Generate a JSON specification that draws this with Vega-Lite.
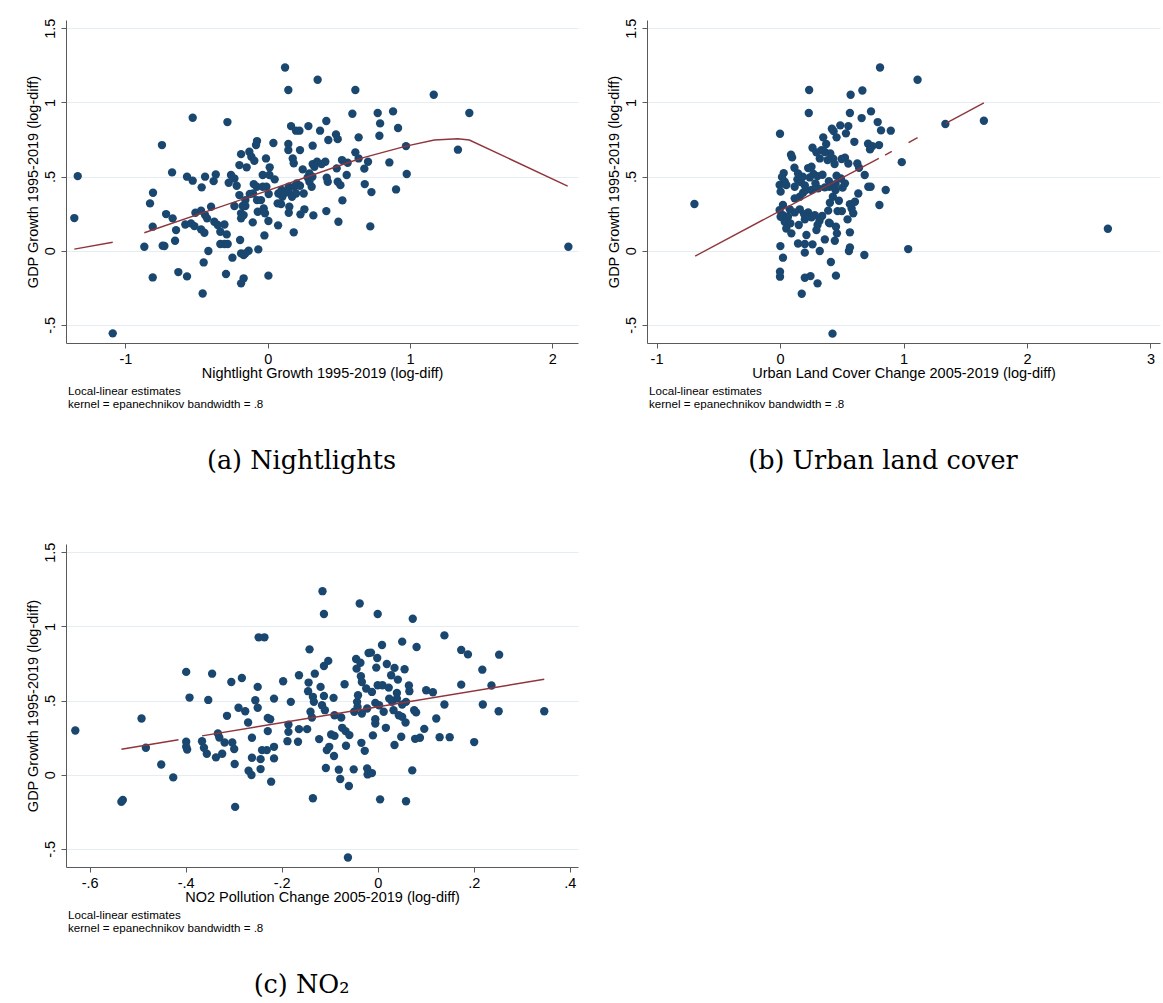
{
"$schema":"https://vega.github.io/schema/vega-lite/v6.json",
"padding":{"left":25,"top":18,"right":3,"bottom":5},
"spacing":67,
"config":{
 "view":{"stroke":null},
 "axis":{"labelFont":"Liberation Sans","labelFontSize":14.5,"labelColor":"#000","titleFont":"Liberation Sans","titleFontSize":14.5,"titleFontWeight":"normal","titleColor":"#000","domainColor":"#5a5a5a","tickColor":"#5a5a5a","tickSize":5,"gridColor":"#e4edf1","labelPadding":4,"labelFlush":false,"labelOverlap":false},
 "axisX":{"grid":false,"titlePadding":1},
 "axisY":{"grid":true,"labelAngle":-90,"labelAlign":"center","labelBaseline":"bottom","titlePadding":2}
},
"datasets":{
"a":[{"x":0.122,"y":1.235},{"x":0.351,"y":1.152},{"x":0.145,"y":1.083},{"x":0.616,"y":1.083},{"x":0.595,"y":0.923},{"x":-0.527,"y":0.896},{"x":-0.283,"y":0.867},{"x":0.164,"y":0.84},{"x":0.199,"y":0.809},{"x":0.223,"y":0.809},{"x":0.286,"y":0.84},{"x":0.412,"y":0.874},{"x":0.368,"y":0.809},{"x":0.48,"y":0.784},{"x":0.492,"y":0.752},{"x":0.639,"y":0.764},{"x":0.426,"y":0.746},{"x":0.316,"y":0.708},{"x":-0.743,"y":0.712},{"x":-0.075,"y":0.739},{"x":-0.082,"y":0.712},{"x":0.04,"y":0.726},{"x":0.145,"y":0.719},{"x":0.145,"y":0.678},{"x":0.227,"y":0.678},{"x":-0.187,"y":0.651},{"x":-0.129,"y":0.667},{"x":-0.115,"y":0.633},{"x":-0.094,"y":0.606},{"x":-0.012,"y":0.622},{"x":0.014,"y":0.562},{"x":-0.148,"y":0.562},{"x":-0.199,"y":0.577},{"x":0.176,"y":0.622},{"x":0.183,"y":0.589},{"x":0.246,"y":0.548},{"x":0.316,"y":0.584},{"x":0.347,"y":0.6},{"x":0.405,"y":0.6},{"x":0.379,"y":0.584},{"x":0.522,"y":0.611},{"x":0.616,"y":0.663},{"x":0.639,"y":0.622},{"x":0.485,"y":0.555},{"x":0.555,"y":0.51},{"x":-0.672,"y":0.528},{"x":-0.567,"y":0.499},{"x":-0.527,"y":0.472},{"x":-0.44,"y":0.499},{"x":-0.464,"y":0.427},{"x":-0.365,"y":0.514},{"x":-0.38,"y":0.469},{"x":-0.258,"y":0.51},{"x":-0.274,"y":0.458},{"x":-0.234,"y":0.487},{"x":-0.218,"y":0.438},{"x":-0.035,"y":0.51},{"x":0.012,"y":0.51},{"x":-0.009,"y":0.431},{"x":-0.098,"y":0.449},{"x":-0.077,"y":0.431},{"x":-0.035,"y":0.431},{"x":0.049,"y":0.481},{"x":0.007,"y":0.382},{"x":-0.103,"y":0.386},{"x":-0.199,"y":0.375},{"x":-0.126,"y":0.382},{"x":-0.075,"y":0.341},{"x":-0.047,"y":0.341},{"x":-0.157,"y":0.341},{"x":-0.176,"y":0.301},{"x":-0.234,"y":0.301},{"x":-0.157,"y":0.301},{"x":-0.07,"y":0.263},{"x":-0.019,"y":0.252},{"x":-0.028,"y":0.285},{"x":-0.187,"y":0.252},{"x":-0.187,"y":0.218},{"x":-0.169,"y":0.24},{"x":-0.105,"y":0.191},{"x":0.005,"y":0.2},{"x":-0.194,"y":0.072},{"x":-0.023,"y":0.103},{"x":-0.066,"y":0.009},{"x":-0.134,"y":0.0},{"x":-0.169,"y":-0.029},{"x":-0.187,"y":-0.018},{"x":-0.248,"y":-0.047},{"x":-0.293,"y":-0.157},{"x":-0.169,"y":-0.186},{"x":-0.187,"y":-0.22},{"x":0.005,"y":-0.168},{"x":0.073,"y":0.171},{"x":0.183,"y":0.124},{"x":0.075,"y":0.386},{"x":0.07,"y":0.319},{"x":0.103,"y":0.364},{"x":0.098,"y":0.409},{"x":0.122,"y":0.391},{"x":0.148,"y":0.431},{"x":0.148,"y":0.393},{"x":0.171,"y":0.364},{"x":0.187,"y":0.431},{"x":0.199,"y":0.386},{"x":0.204,"y":0.454},{"x":0.227,"y":0.438},{"x":0.253,"y":0.386},{"x":0.309,"y":0.431},{"x":0.314,"y":0.499},{"x":0.281,"y":0.494},{"x":0.293,"y":0.521},{"x":0.293,"y":0.465},{"x":0.328,"y":0.566},{"x":0.415,"y":0.492},{"x":0.422,"y":0.465},{"x":0.492,"y":0.465},{"x":0.511,"y":0.442},{"x":0.525,"y":0.339},{"x":0.412,"y":0.267},{"x":0.497,"y":0.195},{"x":0.321,"y":0.238},{"x":0.258,"y":0.279},{"x":0.23,"y":0.245},{"x":0.152,"y":0.296},{"x":0.148,"y":0.256},{"x":0.094,"y":0.314},{"x":-1.359,"y":0.22},{"x":-1.335,"y":0.503},{"x":-1.089,"y":-0.557},{"x":-0.867,"y":0.027},{"x":-0.808,"y":-0.18},{"x":-0.808,"y":0.162},{"x":-0.827,"y":0.319},{"x":-0.806,"y":0.391},{"x":-0.738,"y":0.034},{"x":-0.726,"y":0.032},{"x":-0.714,"y":0.247},{"x":-0.668,"y":0.218},{"x":-0.644,"y":0.139},{"x":-0.651,"y":0.067},{"x":-0.628,"y":-0.144},{"x":-0.567,"y":-0.173},{"x":-0.457,"y":-0.288},{"x":-0.579,"y":0.177},{"x":-0.539,"y":0.184},{"x":-0.515,"y":0.166},{"x":-0.468,"y":0.144},{"x":-0.445,"y":0.121},{"x":-0.417,"y":-0.002},{"x":-0.45,"y":-0.079},{"x":-0.508,"y":0.256},{"x":-0.468,"y":0.27},{"x":-0.44,"y":0.24},{"x":-0.398,"y":0.296},{"x":-0.426,"y":0.218},{"x":-0.375,"y":0.195},{"x":-0.351,"y":0.173},{"x":-0.333,"y":0.128},{"x":-0.304,"y":0.177},{"x":-0.288,"y":0.11},{"x":-0.333,"y":0.045},{"x":-0.304,"y":0.045},{"x":-0.281,"y":0.045},{"x":-0.157,"y":-0.018},{"x":1.167,"y":1.051},{"x":1.417,"y":0.928},{"x":0.773,"y":0.928},{"x":0.881,"y":0.939},{"x":0.79,"y":0.858},{"x":0.916,"y":0.827},{"x":0.785,"y":0.775},{"x":0.972,"y":0.705},{"x":1.337,"y":0.681},{"x":0.562,"y":0.593},{"x":0.855,"y":0.595},{"x":0.705,"y":0.6},{"x":0.679,"y":0.553},{"x":0.977,"y":0.517},{"x":0.682,"y":0.449},{"x":0.729,"y":0.395},{"x":0.902,"y":0.413},{"x":0.721,"y":0.164},{"x":2.113,"y":0.027}],
"la":[{"x":-1.359,"y":0.011,"seg":1},{"x":-1.089,"y":0.057,"seg":1},{"x":-0.867,"y":0.121,"seg":2},{"x":0.0,"y":0.405,"seg":2},{"x":0.562,"y":0.593,"seg":2},{"x":0.679,"y":0.629,"seg":2},{"x":0.972,"y":0.705,"seg":2},{"x":1.171,"y":0.746,"seg":2},{"x":1.335,"y":0.755,"seg":2},{"x":1.417,"y":0.746,"seg":2},{"x":2.108,"y":0.436,"seg":2}],
"b":[{"x":0.81,"y":1.235},{"x":1.114,"y":1.152},{"x":0.236,"y":1.083},{"x":0.572,"y":1.051},{"x":0.667,"y":1.08},{"x":0.233,"y":0.928},{"x":0.566,"y":0.928},{"x":0.737,"y":0.939},{"x":0.661,"y":0.894},{"x":0.791,"y":0.867},{"x":0.818,"y":0.811},{"x":0.897,"y":0.809},{"x":0.0,"y":0.788},{"x":0.42,"y":0.822},{"x":0.488,"y":0.845},{"x":0.553,"y":0.84},{"x":0.534,"y":0.791},{"x":0.458,"y":0.764},{"x":0.434,"y":0.806},{"x":0.35,"y":0.764},{"x":0.602,"y":0.734},{"x":0.713,"y":0.721},{"x":0.748,"y":0.705},{"x":0.802,"y":0.712},{"x":0.729,"y":0.683},{"x":0.089,"y":0.647},{"x":0.098,"y":0.629},{"x":0.263,"y":0.694},{"x":0.295,"y":0.663},{"x":0.336,"y":0.678},{"x":0.374,"y":0.719},{"x":0.363,"y":0.665},{"x":0.407,"y":0.656},{"x":0.431,"y":0.62},{"x":0.322,"y":0.622},{"x":0.385,"y":0.611},{"x":0.442,"y":0.584},{"x":0.499,"y":0.618},{"x":0.526,"y":0.627},{"x":0.553,"y":0.588},{"x":0.626,"y":0.588},{"x":0.64,"y":0.559},{"x":0.986,"y":0.597},{"x":0.686,"y":0.51},{"x":0.715,"y":0.431},{"x":0.734,"y":0.431},{"x":0.856,"y":0.409},{"x":0.805,"y":0.308},{"x":0.03,"y":0.523},{"x":0.016,"y":0.496},{"x":0.038,"y":0.465},{"x":-0.003,"y":0.443},{"x":0.005,"y":0.398},{"x":0.051,"y":0.443},{"x":0.117,"y":0.559},{"x":0.146,"y":0.521},{"x":0.141,"y":0.481},{"x":0.119,"y":0.431},{"x":0.168,"y":0.463},{"x":0.184,"y":0.499},{"x":0.228,"y":0.557},{"x":0.255,"y":0.566},{"x":0.271,"y":0.517},{"x":0.304,"y":0.503},{"x":0.344,"y":0.512},{"x":0.241,"y":0.494},{"x":0.287,"y":0.454},{"x":0.201,"y":0.44},{"x":0.209,"y":0.409},{"x":0.16,"y":0.364},{"x":0.187,"y":0.391},{"x":0.119,"y":0.353},{"x":0.255,"y":0.409},{"x":0.309,"y":0.42},{"x":0.363,"y":0.427},{"x":0.401,"y":0.431},{"x":0.45,"y":0.449},{"x":0.396,"y":0.469},{"x":0.458,"y":0.505},{"x":0.493,"y":0.487},{"x":0.526,"y":0.454},{"x":0.507,"y":0.425},{"x":0.45,"y":0.409},{"x":0.428,"y":0.364},{"x":0.404,"y":0.323},{"x":0.477,"y":0.337},{"x":0.466,"y":0.267},{"x":0.501,"y":0.267},{"x":0.39,"y":0.27},{"x":0.404,"y":0.184},{"x":0.453,"y":0.162},{"x":0.461,"y":0.117},{"x":0.444,"y":0.067},{"x":0.363,"y":0.076},{"x":0.341,"y":0.234},{"x":0.32,"y":0.202},{"x":0.304,"y":0.173},{"x":0.295,"y":0.139},{"x":0.396,"y":0.189},{"x":0.282,"y":0.24},{"x":0.228,"y":0.258},{"x":0.255,"y":0.225},{"x":0.195,"y":0.247},{"x":0.16,"y":0.279},{"x":0.119,"y":0.258},{"x":0.079,"y":0.279},{"x":0.024,"y":0.308},{"x":-0.003,"y":0.274},{"x":0.024,"y":0.24},{"x":0.005,"y":0.229},{"x":0.065,"y":0.229},{"x":0.038,"y":0.195},{"x":0.084,"y":0.184},{"x":0.051,"y":0.15},{"x":0.092,"y":0.117},{"x":0.152,"y":0.173},{"x":0.201,"y":0.211},{"x":0.214,"y":0.106},{"x":0.146,"y":0.049},{"x":0.201,"y":0.045},{"x":0.263,"y":0.043},{"x":0.201,"y":-0.013},{"x":0.322,"y":-0.002},{"x":0.58,"y":0.285},{"x":0.593,"y":0.252},{"x":0.547,"y":0.211},{"x":0.566,"y":0.124},{"x":0.566,"y":0.022},{"x":0.558,"y":-0.002},{"x":0.683,"y":-0.029},{"x":0.634,"y":0.386},{"x":0.607,"y":0.33},{"x":0.566,"y":0.314},{"x":0.003,"y":0.031},{"x":0.024,"y":-0.047},{"x":0.0,"y":-0.142},{"x":0.0,"y":-0.175},{"x":0.201,"y":-0.182},{"x":0.247,"y":-0.171},{"x":0.304,"y":-0.22},{"x":0.176,"y":-0.29},{"x":0.412,"y":-0.076},{"x":0.453,"y":-0.168},{"x":0.425,"y":-0.559},{"x":1.038,"y":0.011},{"x":-0.693,"y":0.315},{"x":1.339,"y":0.854},{"x":1.651,"y":0.876},{"x":2.655,"y":0.148}],
"lb":[{"x":-0.687,"y":-0.036,"seg":1},{"x":0.8,"y":0.623,"seg":1},{"x":0.851,"y":0.645,"seg":2},{"x":0.905,"y":0.669,"seg":2},{"x":1.041,"y":0.729,"seg":3},{"x":1.114,"y":0.762,"seg":3},{"x":1.342,"y":0.858,"seg":4},{"x":1.651,"y":0.997,"seg":4}],
"c":[{"x":-0.63,"y":0.298},{"x":-0.534,"y":-0.182},{"x":-0.531,"y":-0.17},{"x":-0.492,"y":0.379},{"x":-0.483,"y":0.182},{"x":-0.451,"y":0.069},{"x":-0.426,"y":-0.018},{"x":-0.399,"y":0.693},{"x":-0.392,"y":0.52},{"x":-0.399,"y":0.222},{"x":-0.399,"y":0.188},{"x":-0.397,"y":0.17},{"x":-0.345,"y":0.681},{"x":-0.353,"y":0.504},{"x":-0.366,"y":0.226},{"x":-0.362,"y":0.182},{"x":-0.356,"y":0.141},{"x":-0.337,"y":0.117},{"x":-0.324,"y":0.141},{"x":-0.333,"y":0.278},{"x":-0.33,"y":0.251},{"x":-0.314,"y":0.397},{"x":-0.319,"y":0.217},{"x":-0.305,"y":0.625},{"x":-0.303,"y":0.217},{"x":-0.299,"y":0.173},{"x":-0.298,"y":0.072},{"x":-0.297,"y":-0.217},{"x":-0.283,"y":0.652},{"x":-0.29,"y":0.451},{"x":-0.276,"y":0.428},{"x":-0.27,"y":0.352},{"x":-0.269,"y":0.027},{"x":-0.263,"y":-0.002},{"x":-0.262,"y":0.249},{"x":-0.262,"y":0.114},{"x":-0.25,"y":0.592},{"x":-0.255,"y":0.502},{"x":-0.25,"y":0.451},{"x":-0.248,"y":0.926},{"x":-0.236,"y":0.926},{"x":-0.244,"y":0.105},{"x":-0.244,"y":0.038},{"x":-0.241,"y":0.166},{"x":-0.231,"y":0.166},{"x":-0.229,"y":0.383},{"x":-0.224,"y":0.374},{"x":-0.229,"y":0.294},{"x":-0.216,"y":0.513},{"x":-0.216,"y":0.188},{"x":-0.216,"y":0.11},{"x":-0.222,"y":-0.047},{"x":-0.197,"y":0.63},{"x":-0.181,"y":0.491},{"x":-0.186,"y":0.338},{"x":-0.186,"y":0.289},{"x":-0.188,"y":0.226},{"x":-0.164,"y":0.67},{"x":-0.164,"y":0.307},{"x":-0.166,"y":0.222},{"x":-0.115,"y":1.237},{"x":-0.112,"y":1.083},{"x":-0.0375,"y":1.154},{"x":0.0,"y":1.083},{"x":0.073,"y":1.051},{"x":0.139,"y":0.939},{"x":0.051,"y":0.897},{"x":0.009,"y":0.874},{"x":0.081,"y":0.861},{"x":-0.142,"y":0.845},{"x":0.174,"y":0.841},{"x":0.188,"y":0.811},{"x":0.253,"y":0.809},{"x":-0.019,"y":0.82},{"x":-0.014,"y":0.823},{"x":-0.001,"y":0.787},{"x":-0.045,"y":0.78},{"x":-0.036,"y":0.755},{"x":-0.103,"y":0.767},{"x":-0.112,"y":0.733},{"x":-0.044,"y":0.715},{"x":-0.003,"y":0.722},{"x":0.019,"y":0.746},{"x":0.035,"y":0.72},{"x":0.056,"y":0.711},{"x":0.028,"y":0.67},{"x":0.042,"y":0.641},{"x":0.218,"y":0.708},{"x":-0.131,"y":0.681},{"x":-0.035,"y":0.664},{"x":-0.033,"y":0.625},{"x":-0.144,"y":0.621},{"x":-0.119,"y":0.592},{"x":-0.069,"y":0.61},{"x":-0.024,"y":0.581},{"x":0.0,"y":0.603},{"x":0.01,"y":0.603},{"x":0.023,"y":0.587},{"x":0.065,"y":0.601},{"x":0.066,"y":0.563},{"x":-0.012,"y":0.558},{"x":0.04,"y":0.551},{"x":0.101,"y":0.569},{"x":0.115,"y":0.556},{"x":0.174,"y":0.607},{"x":0.237,"y":0.601},{"x":-0.145,"y":0.563},{"x":-0.135,"y":0.525},{"x":-0.133,"y":0.491},{"x":-0.112,"y":0.531},{"x":-0.092,"y":0.518},{"x":-0.041,"y":0.536},{"x":-0.043,"y":0.491},{"x":0.024,"y":0.513},{"x":0.04,"y":0.513},{"x":0.03,"y":0.491},{"x":0.059,"y":0.491},{"x":0.051,"y":0.473},{"x":-0.005,"y":0.484},{"x":0.003,"y":0.468},{"x":-0.116,"y":0.468},{"x":-0.11,"y":0.435},{"x":-0.14,"y":0.424},{"x":-0.137,"y":0.386},{"x":-0.049,"y":0.424},{"x":-0.033,"y":0.412},{"x":-0.022,"y":0.446},{"x":-0.042,"y":0.457},{"x":0.0125,"y":0.424},{"x":0.033,"y":0.435},{"x":0.044,"y":0.401},{"x":0.051,"y":0.39},{"x":0.076,"y":0.435},{"x":0.08,"y":0.42},{"x":0.122,"y":0.379},{"x":0.139,"y":0.473},{"x":0.219,"y":0.473},{"x":0.252,"y":0.428},{"x":0.347,"y":0.428},{"x":-0.09,"y":0.401},{"x":-0.076,"y":0.386},{"x":-0.005,"y":0.374},{"x":-0.005,"y":0.345},{"x":0.017,"y":0.316},{"x":0.058,"y":0.352},{"x":-0.147,"y":0.307},{"x":-0.122,"y":0.24},{"x":-0.097,"y":0.271},{"x":-0.09,"y":0.262},{"x":-0.074,"y":0.316},{"x":-0.067,"y":0.294},{"x":-0.059,"y":0.267},{"x":-0.066,"y":0.195},{"x":-0.034,"y":0.215},{"x":-0.027,"y":0.161},{"x":-0.106,"y":0.166},{"x":-0.101,"y":0.188},{"x":-0.091,"y":0.126},{"x":-0.01,"y":0.265},{"x":0.035,"y":0.2},{"x":0.049,"y":0.256},{"x":0.078,"y":0.242},{"x":0.088,"y":0.249},{"x":0.097,"y":0.309},{"x":0.129,"y":0.253},{"x":0.15,"y":0.253},{"x":0.201,"y":0.22},{"x":-0.108,"y":0.045},{"x":-0.081,"y":0.034},{"x":-0.05,"y":0.036},{"x":-0.078,"y":-0.029},{"x":-0.06,"y":-0.076},{"x":-0.022,"y":0.043},{"x":-0.021,"y":0.002},{"x":-0.012,"y":0.011},{"x":0.072,"y":0.029},{"x":-0.135,"y":-0.159},{"x":0.005,"y":-0.166},{"x":0.059,"y":-0.179},{"x":-0.062,"y":-0.558}],
"lc":[{"x":-0.534,"y":0.172,"seg":1},{"x":-0.415,"y":0.236,"seg":1},{"x":-0.366,"y":0.262,"seg":2},{"x":0.347,"y":0.643,"seg":2}]
},
"vconcat":[
 {"hconcat":[
  {"title":{"text":"(a) Nightlights","orient":"bottom","anchor":"middle","frame":"bounds","font":"DejaVu Serif","fontSize":25.5,"fontWeight":"normal","color":"#000","offset":39},
   "vconcat":[{
    "width":512,"height":323,
    "title":{"text":["Local-linear estimates","kernel = epanechnikov bandwidth = .8"],"orient":"bottom","anchor":"start","frame":"group","font":"Liberation Sans","fontSize":11.6,"fontWeight":"normal","color":"#000","lineHeight":12.5,"offset":6,"dx":2},
    "encoding":{
     "x":{"field":"x","type":"quantitative","scale":{"domain":[-1.4174,2.1806],"nice":false,"zero":false},"axis":{"values":[-1,0,1,2],"title":"Nightlight Growth 1995-2019 (log-diff)","labelExpr":"replace(replace(format(datum.value,'.1~f'),'\u2212','-'),'0.','.')"}},
     "y":{"field":"y","type":"quantitative","scale":{"domain":[-0.622,1.555],"nice":false,"zero":false},"axis":{"values":[-0.5,0,0.5,1,1.5],"title":"GDP Growth 1995-2019 (log-diff)","labelExpr":"replace(replace(format(datum.value,'.1~f'),'\u2212','-'),'0.','.')"}}
    },
    "layer":[
     {"data":{"name":"a"},"mark":{"type":"circle","size":70,"color":"#1a476f","opacity":1}},
     {"data":{"name":"la"},"mark":{"type":"line","color":"#90353b","strokeWidth":1.4},"encoding":{"detail":{"field":"seg","type":"nominal"}}}
    ]
   }]
  },
  {"title":{"text":"(b) Urban land cover","orient":"bottom","anchor":"middle","frame":"bounds","font":"DejaVu Serif","fontSize":25.5,"fontWeight":"normal","color":"#000","offset":39},
   "vconcat":[{
    "width":513,"height":323,
    "title":{"text":["Local-linear estimates","kernel = epanechnikov bandwidth = .8"],"orient":"bottom","anchor":"start","frame":"group","font":"Liberation Sans","fontSize":11.6,"fontWeight":"normal","color":"#000","lineHeight":12.5,"offset":6,"dx":2},
    "encoding":{
     "x":{"field":"x","type":"quantitative","scale":{"domain":[-1.077,3.077],"nice":false,"zero":false},"axis":{"values":[-1,0,1,2,3],"title":"Urban Land Cover Change 2005-2019 (log-diff)","labelExpr":"replace(replace(format(datum.value,'.1~f'),'\u2212','-'),'0.','.')"}},
     "y":{"field":"y","type":"quantitative","scale":{"domain":[-0.622,1.555],"nice":false,"zero":false},"axis":{"values":[-0.5,0,0.5,1,1.5],"title":"GDP Growth 1995-2019 (log-diff)","labelExpr":"replace(replace(format(datum.value,'.1~f'),'\u2212','-'),'0.','.')"}}
    },
    "layer":[
     {"data":{"name":"b"},"mark":{"type":"circle","size":70,"color":"#1a476f","opacity":1}},
     {"data":{"name":"lb"},"mark":{"type":"line","color":"#90353b","strokeWidth":1.4},"encoding":{"detail":{"field":"seg","type":"nominal"}}}
    ]
   }]
  }
 ],"spacing":28},
 {"title":{"text":"(c) NO₂","orient":"bottom","anchor":"middle","frame":"bounds","font":"DejaVu Serif","fontSize":25.5,"fontWeight":"normal","color":"#000","offset":39},
  "vconcat":[{
   "width":512,"height":323,
   "title":{"text":["Local-linear estimates","kernel = epanechnikov bandwidth = .8"],"orient":"bottom","anchor":"start","frame":"group","font":"Liberation Sans","fontSize":11.6,"fontWeight":"normal","color":"#000","lineHeight":12.5,"offset":6,"dx":2},
   "encoding":{
    "x":{"field":"x","type":"quantitative","scale":{"domain":[-0.6494,0.4173],"nice":false,"zero":false},"axis":{"values":[-0.6,-0.4,-0.2,0,0.2,0.4],"title":"NO2 Pollution Change 2005-2019 (log-diff)","labelExpr":"replace(replace(format(datum.value,'.1~f'),'\u2212','-'),'0.','.')"}},
    "y":{"field":"y","type":"quantitative","scale":{"domain":[-0.622,1.555],"nice":false,"zero":false},"axis":{"values":[-0.5,0,0.5,1,1.5],"title":"GDP Growth 1995-2019 (log-diff)","labelExpr":"replace(replace(format(datum.value,'.1~f'),'\u2212','-'),'0.','.')"}}
   },
   "layer":[
    {"data":{"name":"c"},"mark":{"type":"circle","size":70,"color":"#1a476f","opacity":1}},
    {"data":{"name":"lc"},"mark":{"type":"line","color":"#90353b","strokeWidth":1.4},"encoding":{"detail":{"field":"seg","type":"nominal"}}}
   ]
  }]
 }
]
}
